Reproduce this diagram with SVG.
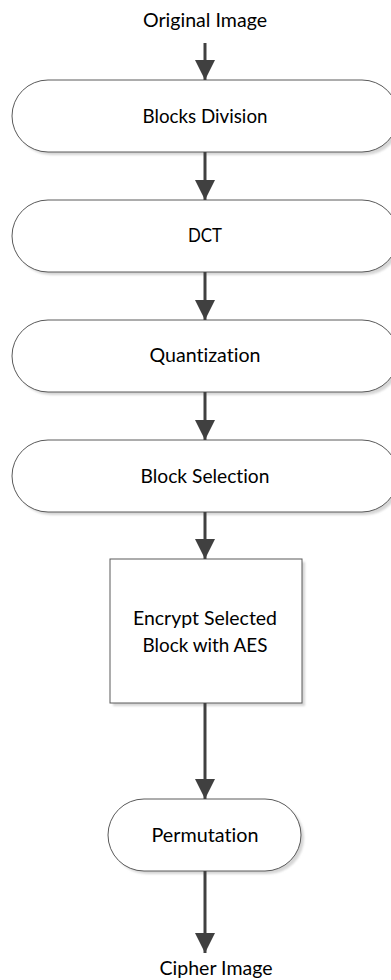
<svg xmlns="http://www.w3.org/2000/svg" width="391" height="980" viewBox="0 0 391 980">
  <defs>
    <style>
      .shape { fill: #ffffff; stroke: #5a5a5a; stroke-width: 1; }
      .shadow { fill: #d6d6d6; filter: url(#soft); }
      .label { font-family: "Lato", "Open Sans", "Liberation Sans", sans-serif; font-size: 20px; fill: #000000; text-anchor: middle; font-variant-ligatures: none; font-feature-settings: "liga" 0, "clig" 0; }
      .edge { stroke: #404040; stroke-width: 3; fill: none; }
    </style>
    <filter id="soft" x="-10%" y="-10%" width="120%" height="130%">
      <feGaussianBlur stdDeviation="1"/>
    </filter>
    <marker id="head" viewBox="0 0 20 20" refX="20" refY="10" markerWidth="20" markerHeight="20" markerUnits="userSpaceOnUse" orient="auto">
      <path d="M0,0 L20,10 L0,20 Z" fill="#404040"/>
    </marker>
  </defs>

  <!-- terminal labels -->
  <text id="input-label" class="label" x="205" y="27" textLength="124" lengthAdjust="spacingAndGlyphs">Original Image</text>
  <text id="output-label" class="label" x="216" y="975" textLength="113" lengthAdjust="spacingAndGlyphs">Cipher Image</text>

  <!-- process steps -->
  <g id="blocks-division">
    <rect class="shadow" x="15" y="83" width="386" height="72" rx="36" ry="36"/>
    <rect class="shape" x="12" y="80" width="386" height="72" rx="36" ry="36"/>
    <text class="label" x="205" y="123" textLength="125" lengthAdjust="spacingAndGlyphs">Blocks Division</text>
  </g>

  <g id="dct">
    <rect class="shadow" x="15" y="203" width="386" height="72" rx="36" ry="36"/>
    <rect class="shape" x="12" y="200" width="386" height="72" rx="36" ry="36"/>
    <text class="label" x="205" y="242" textLength="34" lengthAdjust="spacingAndGlyphs">DCT</text>
  </g>

  <g id="quantization">
    <rect class="shadow" x="15" y="323" width="386" height="72" rx="36" ry="36"/>
    <rect class="shape" x="12" y="320" width="386" height="72" rx="36" ry="36"/>
    <text class="label" x="205" y="362" textLength="111" lengthAdjust="spacingAndGlyphs">Quantization</text>
  </g>

  <g id="block-selection">
    <rect class="shadow" x="15" y="443" width="386" height="72" rx="36" ry="36"/>
    <rect class="shape" x="12" y="440" width="386" height="72" rx="36" ry="36"/>
    <text class="label" x="205" y="483" textLength="129" lengthAdjust="spacingAndGlyphs">Block Selection</text>
  </g>

  <g id="encrypt-aes">
    <rect class="shadow" x="113" y="562" width="192" height="144"/>
    <rect class="shape" x="110" y="559" width="192" height="144"/>
    <text class="label" x="205" y="625" textLength="144" lengthAdjust="spacingAndGlyphs">Encrypt Selected</text>
    <text class="label" x="205" y="652" textLength="125" lengthAdjust="spacingAndGlyphs">Block with AES</text>
  </g>

  <g id="permutation">
    <rect class="shadow" x="111" y="802" width="193" height="72" rx="36" ry="36"/>
    <rect class="shape" x="108" y="799" width="193" height="72" rx="36" ry="36"/>
    <text class="label" x="205" y="842" textLength="107" lengthAdjust="spacingAndGlyphs">Permutation</text>
  </g>

  <!-- flow arrows -->
  <g id="connectors">
    <line class="edge" x1="205" y1="43" x2="205" y2="80" marker-end="url(#head)"/>
    <line class="edge" x1="205" y1="152" x2="205" y2="200" marker-end="url(#head)"/>
    <line class="edge" x1="205" y1="272" x2="205" y2="320" marker-end="url(#head)"/>
    <line class="edge" x1="205" y1="392" x2="205" y2="440" marker-end="url(#head)"/>
    <line class="edge" x1="205" y1="512" x2="205" y2="559" marker-end="url(#head)"/>
    <line class="edge" x1="205" y1="703" x2="205" y2="799" marker-end="url(#head)"/>
    <line class="edge" x1="205" y1="871" x2="205" y2="953" marker-end="url(#head)"/>
  </g>
</svg>
